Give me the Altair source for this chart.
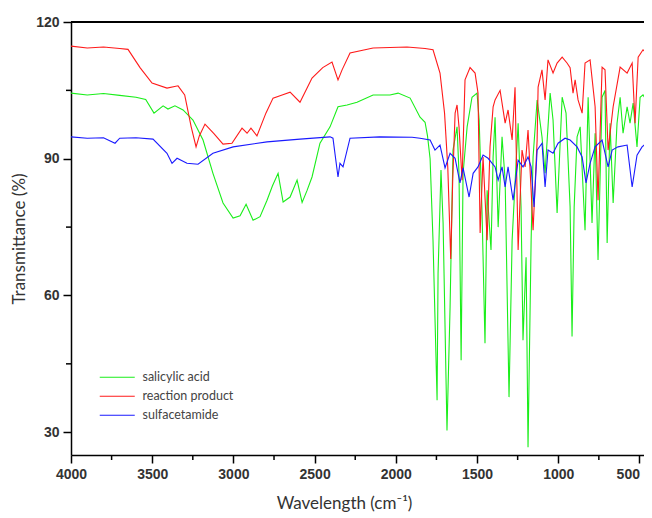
import altair as alt
import pandas as pd

# ---------------- data ----------------
series_names = ["salicylic acid", "reaction product", "sulfacetamide"]
series_colors = ["#1aee1a", "#ff1a1a", "#1a1aff"]

salicylic_wn = [4000, 3900, 3800, 3700, 3600, 3540, 3489, 3433, 3403, 3360, 3310, 3249,
                3187, 3126, 3064, 3002, 2959, 2922, 2879, 2836, 2793, 2760, 2725, 2694,
                2651, 2608, 2577, 2547, 2516, 2467, 2405, 2356, 2300, 2239, 2140, 2036,
                1986, 1912, 1851, 1820, 1805, 1789, 1771, 1746, 1740, 1722, 1709, 1685,
                1666, 1648, 1623, 1611, 1598, 1586, 1561, 1531, 1500, 1487, 1469, 1451,
                1438, 1414, 1401, 1389, 1370, 1346, 1327, 1303, 1284, 1247, 1229, 1217,
                1198, 1186, 1167, 1155, 1130, 1100, 1081, 1050, 1032, 1007, 976, 952,
                927, 915, 902, 884, 865, 835, 816, 792, 773, 755, 730, 712, 699, 681,
                662, 638, 619, 601, 576, 558, 539, 515, 496, 478, 447, 422]
salicylic_t = [104.4, 104.0, 104.3, 103.9, 103.5, 103.0, 100.0, 101.6, 100.9, 101.6, 100.7, 98.5,
               94.1, 86.8, 80.3, 77.0, 77.5, 80.0, 76.5, 77.3, 80.9, 84.0, 86.8, 80.5,
               81.6, 85.3, 80.4, 83.0, 86.0, 93.4, 97.0, 101.4, 101.8, 102.4, 104.0, 104.0,
               104.4, 103.3, 99.1, 98.0, 95.0, 90.0, 72.0, 37.0, 64.9, 87.5, 75.9, 30.4,
               57.4, 91.9, 97.0, 86.8, 45.8, 86.8, 97.0, 103.5, 104.4, 98.5, 78.1, 49.5,
               83.1, 70.0, 90.4, 99.1, 75.0, 94.8, 85.3, 37.7, 72.1, 97.8, 79.4, 50.2,
               68.4, 26.7, 72.1, 90.4, 102.9, 94.8, 86.8, 104.4, 98.5, 78.1, 103.5, 100.0,
               79.4, 51.0, 79.4, 94.8, 97.0, 74.3, 103.5, 75.9, 95.6, 67.8, 103.5, 105.0,
               71.5, 97.8, 80.3, 97.8, 103.5, 95.6, 101.4, 97.8, 102.2, 92.6, 103.5, 104.0,
               102.2, 99.1]

product_wn = [4000, 3900, 3800, 3700, 3649, 3575, 3501, 3409, 3341, 3300, 3260, 3230,
              3210, 3175, 3120, 3064, 3009, 2947, 2916, 2892, 2855, 2800, 2756, 2700,
              2651, 2590, 2516, 2450, 2393, 2356, 2331, 2282, 2140, 1931, 1820, 1771,
              1728, 1700, 1680, 1662, 1650, 1635, 1623, 1611, 1592, 1574, 1543, 1512,
              1494, 1481, 1463, 1438, 1420, 1401, 1389, 1358, 1327, 1309, 1284, 1266,
              1247, 1223, 1204, 1186, 1167, 1155, 1130, 1124, 1100, 1081, 1063, 1032,
              1007, 976, 946, 927, 909, 896, 878, 853, 835, 804, 773, 755, 730, 712,
              693, 662, 619, 576, 545, 527, 508, 478, 434]
product_t = [114.7, 114.3, 114.5, 114.2, 114.0, 110.0, 106.6, 105.5, 106.0, 104.0, 97.0, 92.6,
             95.0, 97.6, 95.5, 93.2, 93.4, 96.7, 95.6, 96.7, 95.0, 100.0, 103.3, 104.0,
             104.6, 102.4, 107.7, 110.0, 111.2, 107.3, 109.5, 113.2, 114.3, 114.5, 114.2, 113.9,
             108.8, 100.0, 88.0, 68.0, 85.0, 100.0, 101.8, 97.0, 85.3, 107.3, 110.0, 108.8,
             104.4, 73.7, 90.4, 72.1, 92.6, 101.4, 102.9, 105.0, 97.8, 100.7, 94.1, 105.7,
             70.0, 91.9, 88.2, 96.3, 83.1, 74.3, 94.1, 105.7, 109.5, 102.9, 111.7, 108.8,
             111.0, 112.3, 111.0, 110.0, 104.4, 107.3, 102.9, 100.0, 111.0, 111.7, 101.4, 80.9,
             110.1, 109.5, 91.9, 101.4, 110.1, 108.8, 111.0, 97.8, 112.3, 113.9, 112.3]

sulfa_wn = [4000, 3900, 3800, 3729, 3700, 3600, 3495, 3409, 3378, 3347, 3286, 3218,
            3126, 3002, 2793, 2590, 2405, 2387, 2356, 2344, 2325, 2282, 2100, 1900,
            1851, 1789, 1759, 1728, 1697, 1666, 1635, 1605, 1586, 1549, 1524, 1494,
            1463, 1432, 1389, 1370, 1346, 1327, 1309, 1278, 1247, 1217, 1186, 1167,
            1149, 1130, 1100, 1081, 1063, 1032, 1001, 958, 927, 884, 853, 829,
            804, 773, 730, 693, 668, 632, 576, 545, 515, 484, 422]
sulfa_t = [94.8, 94.5, 94.6, 93.4, 94.5, 94.6, 94.3, 91.2, 89.0, 90.1, 89.0, 88.8,
           91.2, 92.6, 93.7, 94.3, 94.8, 94.5, 86.0, 89.0, 88.2, 94.5, 94.8, 94.7,
           94.5, 94.1, 91.9, 93.0, 88.0, 91.2, 90.1, 84.7, 88.0, 81.6, 86.8, 88.2,
           90.8, 90.1, 88.2, 85.3, 88.2, 83.8, 88.2, 80.9, 89.7, 88.2, 90.4, 88.2,
           79.4, 91.9, 93.4, 83.8, 91.9, 91.2, 93.4, 94.5, 94.1, 92.6, 90.4, 84.7,
           89.0, 92.6, 94.1, 88.2, 91.9, 92.6, 93.0, 83.8, 90.8, 92.6, 94.5]

x_major = [4000, 3500, 3000, 2500, 2000, 1500, 1000, 500]
x_minor = [3750, 3250, 2750, 2250, 1750, 1250, 750]
y_major = [30, 60, 90, 120]
y_minor = [45, 75, 105]

frames = []
for name, wn, t in [(series_names[0], salicylic_wn, salicylic_t),
                    (series_names[1], product_wn, product_t),
                    (series_names[2], sulfa_wn, sulfa_t)]:
    frames.append(pd.DataFrame({"wn": wn, "T": t, "series": name}))
df = pd.concat(frames, ignore_index=True)

PLOT_W, PLOT_H = 573, 433

# ---------------- chart ----------------
x_scale = alt.Scale(domain=[4000, 472], nice=False, zero=False)
y_scale = alt.Scale(domain=[25, 120], nice=False, zero=False)

x_enc = alt.X(
    "wn:Q", scale=x_scale,
    axis=alt.Axis(
        values=x_major, format="d", tickSize=8,
        labelAlign={"condition": {"test": "datum.value === 500", "value": "right"}, "value": "center"},
        title="Wavelength (cm⁻¹)",
        titleX=273, titleY=40, titleAlign="center", titleBaseline="top",
        labelPadding=4,
    ),
)
y_enc = alt.Y(
    "T:Q", scale=y_scale,
    axis=alt.Axis(
        values=y_major, format="d", tickSize=8,
        title="Transmittance (%)",
        titleX=-43, titleY=PLOT_H / 2, titleAngle=270, titleAlign="center", titleBaseline="bottom",
        labelPadding=4,
    ),
)

lines = alt.Chart(df).mark_line(strokeWidth=1.1, clip=True).encode(
    x=x_enc,
    y=y_enc,
    color=alt.Color(
        "series:N",
        scale=alt.Scale(domain=series_names, range=series_colors),
        legend=alt.Legend(
            orient="none", legendX=40, legendY=349, title=None,
            symbolType="M-5,0H5", symbolSize=49, symbolStrokeWidth=1.2,
            symbolFillColor="transparent",
            labelFont="Lato", labelFontSize=12.5, labelColor="#444",
            labelOffset=19, rowPadding=6, padding=0,
        ),
    ),
    order=alt.Order("wn:Q", sort="descending"),
)

top_border = alt.Chart(df).mark_rule(color="black", strokeWidth=1.5).encode(
    y=alt.datum(120)
)

x_minor_ticks = alt.Chart(pd.DataFrame({"wn": x_minor})).mark_rule(
    color="black", strokeWidth=1.5, clip=False
).encode(x=x_enc, y=alt.value(PLOT_H), y2=alt.value(PLOT_H + 5))

y_minor_ticks = alt.Chart(pd.DataFrame({"T": y_minor})).mark_rule(
    color="black", strokeWidth=1.5, clip=False
).encode(y=y_enc, x=alt.value(-5), x2=alt.value(0))

chart = alt.layer(top_border, x_minor_ticks, y_minor_ticks, lines).properties(
    width=PLOT_W,
    height=PLOT_H,
    autosize=alt.AutoSizeParams(type="none"),
    padding={"left": 63, "top": 14, "right": 0, "bottom": 60},
).configure_view(stroke=None).configure_axis(
    grid=False,
    domainColor="black", domainWidth=1.5,
    tickColor="black", tickWidth=1.5,
    labelFont="Liberation Sans", labelFontSize=14, labelFontWeight="bold", labelColor="#333",
    titleFont="Lato", titleFontSize=17, titleFontWeight="normal", titleColor="#333",
)

chart.save("out.html", embed_options={"renderer": "svg", "actions": False})
